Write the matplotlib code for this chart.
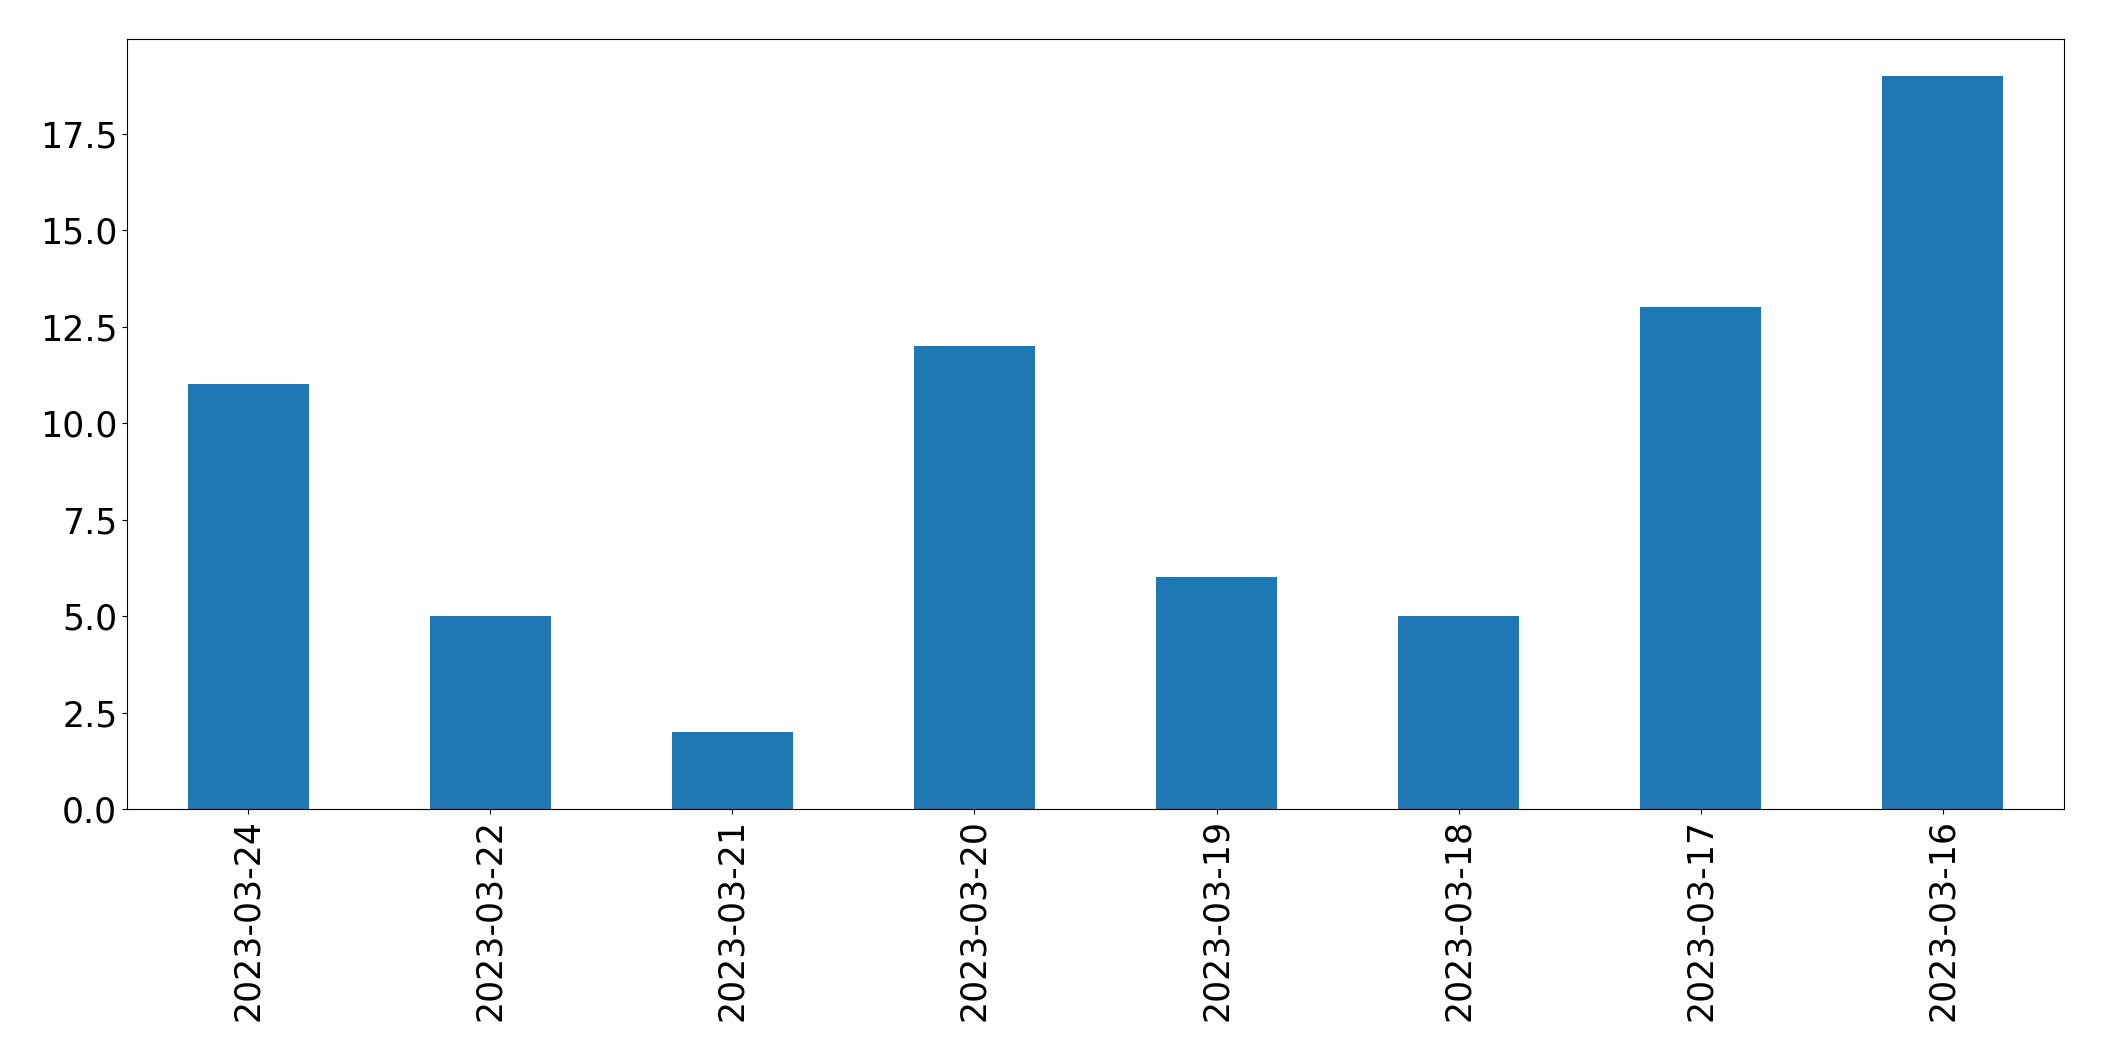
import pandas as pd
import matplotlib
matplotlib.use("Agg")
import matplotlib.pyplot as plt

# =====================================
# DATA
# =====================================

dates = ["2023-03-24", "2023-03-22", "2023-03-21", "2023-03-20",
         "2023-03-19", "2023-03-18", "2023-03-17", "2023-03-16"]
counts = [11, 5, 2, 12, 6, 5, 13, 19]

series = pd.Series(counts, index=dates)

# =====================================
# PLOT
# =====================================

fig = plt.figure(figsize=(21.04, 10.61), dpi=100)
ax = fig.add_axes([127 / 2104, 1 - 809 / 1061, (2064 - 127) / 2104, (809 - 39) / 1061])

series.plot(kind="bar", ax=ax, color="#1f77b4")

ax.tick_params(axis="both", labelsize=25)

fig.savefig("out.png", dpi=100)
plt.close(fig)
